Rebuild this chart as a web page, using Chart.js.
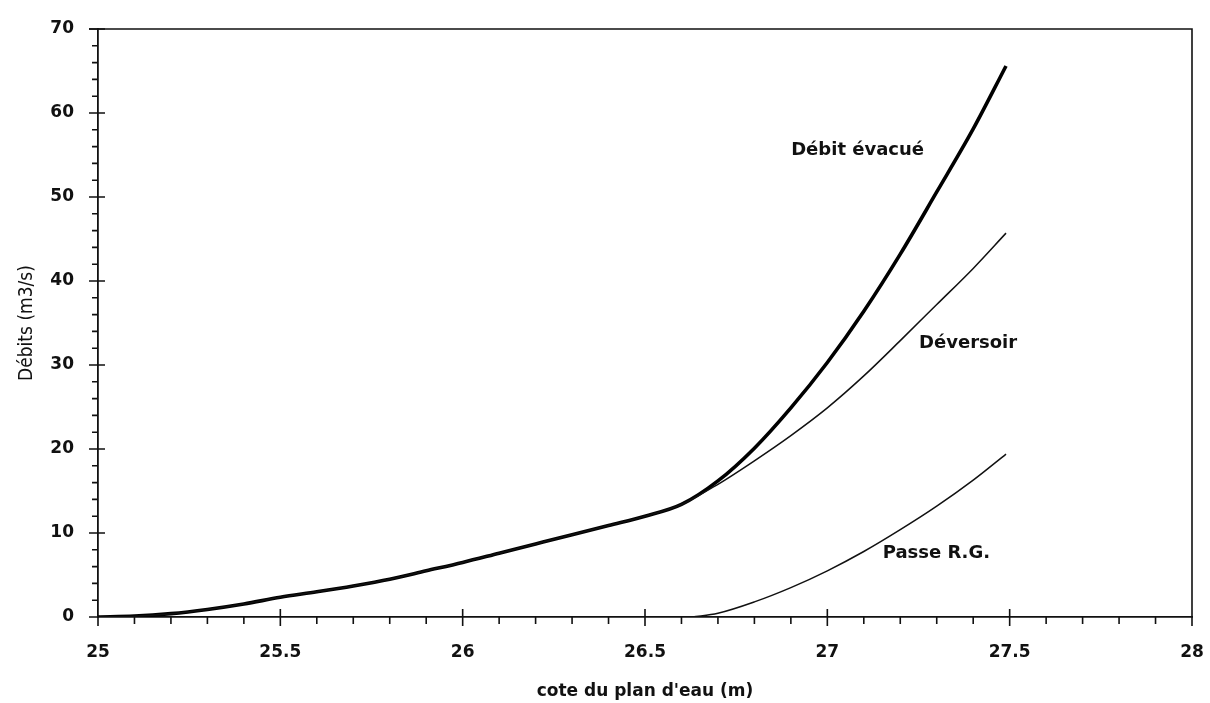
<!DOCTYPE html>
<html>
<head>
<meta charset="utf-8">
<script src="https://cdn.jsdelivr.net/npm/chart.js@4/dist/chart.umd.min.js"></script>
<style>
  html, body { margin: 0; padding: 0; background: #fff; }
  #wrap { width: 1210px; height: 703px; position: relative; }
</style>
</head>
<body>
<div id="wrap"><canvas id="debitChart"></canvas></div>
<script>
// partie commune (avant ouverture de la passe)
const coteBase = [25.0, 25.1, 25.2, 25.3, 25.4, 25.5, 25.6, 25.7, 25.8, 25.9, 26.0, 26.1, 26.2, 26.3, 26.4, 26.5, 26.6];
const debitBase = [0, 0.1, 0.4, 0.9, 1.55, 2.35, 3.0, 3.7, 4.5, 5.5, 6.5, 7.6, 8.7, 9.8, 10.9, 12.0, 13.4];

// au-dessus de 26.6 m
const coteHaut = [26.7, 26.8, 26.9, 27.0, 27.1, 27.2, 27.3, 27.4, 27.49];
const debitEvacue = [16.2, 20.1, 24.9, 30.3, 36.4, 43.2, 50.6, 58.1, 65.6];
const debitDeversoir = [15.8, 18.6, 21.6, 24.9, 28.7, 32.9, 37.2, 41.5, 45.7];

const cotePasse = [26.63, 26.7, 26.8, 26.9, 27.0, 27.1, 27.2, 27.3, 27.4, 27.49];
const debitPasse = [0, 0.45, 1.8, 3.5, 5.5, 7.8, 10.4, 13.2, 16.3, 19.4];

// étiquettes des courbes
const labelTexts = ['Débit évacué', 'Déversoir', 'Passe R.G.'];
const labelCote = [27.083, 27.386, 27.299];
const labelDebit = [55.6, 32.6, 7.6];

const toPoints = (xs, ys) => xs.map((x, i) => ({ x: x, y: ys[i] }));

// graduations secondaires + cadre + étiquettes
const axesDeco = {
  id: 'axesDeco',
  afterDatasetsDraw(chart) {
    const ctx = chart.ctx;
    const xs = chart.scales.x, ys = chart.scales.y;
    const a = chart.chartArea;
    ctx.save();
    ctx.strokeStyle = '#111';
    ctx.lineWidth = 1.6;
    // cadre haut / droite
    ctx.beginPath();
    ctx.moveTo(a.left - 9, a.top);
    ctx.lineTo(a.right, a.top);
    ctx.lineTo(a.right, a.bottom);
    ctx.stroke();
    // axe des x
    ctx.beginPath();
    for (let i = 0; i <= 30; i++) {
      const px = xs.getPixelForValue(25 + i * 0.1);
      if (i % 5 === 0) {
        ctx.moveTo(px, a.bottom - (i === 0 || i === 30 ? 0 : 8));
        ctx.lineTo(px, a.bottom + 9);
      } else {
        ctx.moveTo(px, a.bottom);
        ctx.lineTo(px, a.bottom + 7);
      }
    }
    // axe des y
    for (let i = 0; i <= 35; i++) {
      const py = ys.getPixelForValue(i * 2);
      if (i % 5 === 0) {
        ctx.moveTo(a.left - 9, py);
        ctx.lineTo(a.left + (i === 0 ? 0 : 7), py);
      } else {
        ctx.moveTo(a.left - 6, py);
        ctx.lineTo(a.left, py);
      }
    }
    ctx.stroke();
    // noms des courbes
    ctx.fillStyle = '#111';
    ctx.font = 'bold 18px "DejaVu Sans", sans-serif';
    ctx.textAlign = 'center';
    ctx.textBaseline = 'middle';
    labelTexts.forEach((t, i) => {
      ctx.fillText(t, xs.getPixelForValue(labelCote[i]), ys.getPixelForValue(labelDebit[i]));
    });
    ctx.restore();
  }
};

new Chart(document.getElementById('debitChart'), {
  type: 'line',
  data: {
    datasets: [
      {
        label: 'Passe R.G.',
        data: toPoints(cotePasse, debitPasse),
        borderColor: '#111',
        borderWidth: 1.5,
        pointRadius: 0,
        cubicInterpolationMode: 'monotone'
      },
      {
        label: 'Déversoir',
        data: toPoints(coteBase.concat(coteHaut), debitBase.concat(debitDeversoir)),
        borderColor: '#111',
        borderWidth: 1.5,
        pointRadius: 0,
        cubicInterpolationMode: 'monotone'
      },
      {
        label: 'Débit évacué',
        data: toPoints(coteBase.concat(coteHaut), debitBase.concat(debitEvacue)),
        borderColor: '#000',
        borderWidth: 3.6,
        pointRadius: 0,
        cubicInterpolationMode: 'monotone'
      }
    ]
  },
  options: {
    responsive: true,
    maintainAspectRatio: false,
    animation: false,
    devicePixelRatio: 1,
    layout: { padding: { top: 29, right: 18, left: 0, bottom: 0 } },
    plugins: {
      legend: { display: false },
      tooltip: { enabled: false }
    },
    scales: {
      x: {
        type: 'linear',
        min: 25,
        max: 28,
        grid: { display: false, drawTicks: false },
        border: { display: true, color: '#111', width: 1.8 },
        ticks: {
          stepSize: 0.5,
          padding: 25,
          color: '#111',
          font: { family: '"DejaVu Sans", sans-serif', size: 17, weight: 'bold' },
          callback: (v) => String(v)
        },
        title: {
          display: true,
          text: "cote du plan d'eau (m)",
          color: '#111',
          font: { family: '"DejaVu Sans", sans-serif', size: 17, weight: 'bold' },
          padding: { top: 0, bottom: 1 }
        },
        afterFit: (s) => { s.height = 86; s.paddingLeft = 0; s.paddingRight = 0; }
      },
      y: {
        type: 'linear',
        min: 0,
        max: 70,
        grid: { display: false, drawTicks: false },
        border: { display: true, color: '#111', width: 1.8 },
        ticks: {
          stepSize: 10,
          padding: 24,
          color: '#111',
          font: { family: '"DejaVu Sans", sans-serif', size: 17, weight: 'bold' },
          callback: (v) => String(v)
        },
        title: {
          display: true,
          text: 'Débits (m3/s)',
          color: '#111',
          font: { family: '"DejaVu Sans Condensed", "Liberation Sans Narrow", "DejaVu Sans", sans-serif', size: 19 },
          padding: { top: 16, bottom: 0 }
        },
        afterFit: (s) => { s.width = 98; s.paddingTop = 0; s.paddingBottom = 0; }
      }
    }
  },
  plugins: [axesDeco]
});
</script>
</body>
</html>
